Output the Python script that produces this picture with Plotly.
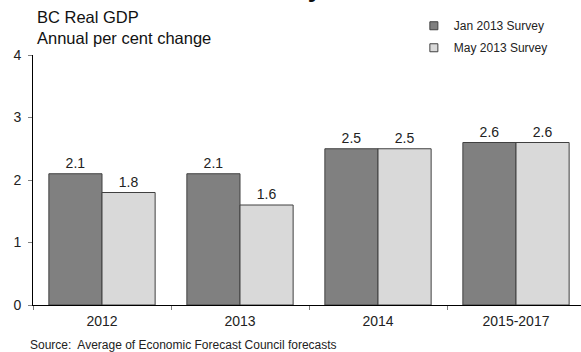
import plotly.graph_objects as go

# Data
categories = ["2012", "2013", "2014", "2015-2017"]
jan_survey = [2.1, 2.1, 2.5, 2.6]
may_survey = [1.8, 1.6, 2.5, 2.6]
series_names = ["Jan 2013 Survey", "May 2013 Survey"]
y_ticks = [0, 1, 2, 3, 4]

dark = "#808080"
light = "#d9d9d9"
edge = "#404040"
font = "Arial"

fig = go.Figure()
for vals, col, name in [(jan_survey, dark, series_names[0]), (may_survey, light, series_names[1])]:
    fig.add_trace(go.Bar(
        x=categories, y=vals, marker=dict(color=col, line=dict(color=edge, width=1)),
        text=[f"{v:.1f}" for v in vals], textposition="outside",
        textfont=dict(size=14, color="#222", family=font),
        cliponaxis=False, showlegend=False, name=name,
    ))

# small square legend keys
for col, name in [(dark, series_names[0]), (light, series_names[1])]:
    fig.add_trace(go.Scatter(
        x=[None], y=[None], mode="markers", name=name, legendgroup=name,
        marker=dict(symbol="square", size=8, color=col, line=dict(color=edge, width=1)),
    ))

fig.update_layout(
    width=581, height=352,
    margin=dict(l=33, r=0, t=55, b=47),
    paper_bgcolor="white", plot_bgcolor="white",
    barmode="group", bargap=0.23, bargroupgap=0,
    font=dict(family=font, size=14, color="#222"),
    legend=dict(x=0.695, y=1.175, xanchor="left", yanchor="top",
                font=dict(size=12, color="#222", family=font),
                itemwidth=30, tracegroupgap=3, bgcolor="rgba(0,0,0,0)"),
    showlegend=True,
)
fig.update_xaxes(
    range=[-0.5, 3.471], showline=True, linecolor="black", linewidth=1,
    ticks="outside", tickson="boundaries", ticklen=4, tickcolor="#808080",
    showgrid=False, tickfont=dict(size=14, color="#222"), ticklabelstandoff=3,
)
fig.update_yaxes(
    range=[0, 4], tickvals=y_ticks, showline=True, linecolor="black", linewidth=1,
    ticks="outside", ticklen=4, tickcolor="#808080", showgrid=False, zeroline=False,
    tickfont=dict(size=14, color="#222"), ticklabelstandoff=4,
)

fig.add_annotation(text="Outlook for BC Economy", xref="paper", yref="paper",
                   x=-0.04, y=1.2, xanchor="left", yanchor="bottom", showarrow=False,
                   font=dict(size=26, color="#111", family=font, weight="bold"))
fig.add_annotation(text="BC Real GDP<br>Annual per cent change", xref="paper", yref="paper",
                   x=0.003, y=1.195, xanchor="left", yanchor="top", showarrow=False, align="left",
                   font=dict(size=16.5, color="#111", family=font))
fig.add_annotation(text="Source:  Average of Economic Forecast Council forecasts", xref="paper", yref="paper",
                   x=-0.01, y=-0.125, xanchor="left", yanchor="top", showarrow=False,
                   font=dict(size=12, color="#222", family=font))

fig.write_html("out.html")
